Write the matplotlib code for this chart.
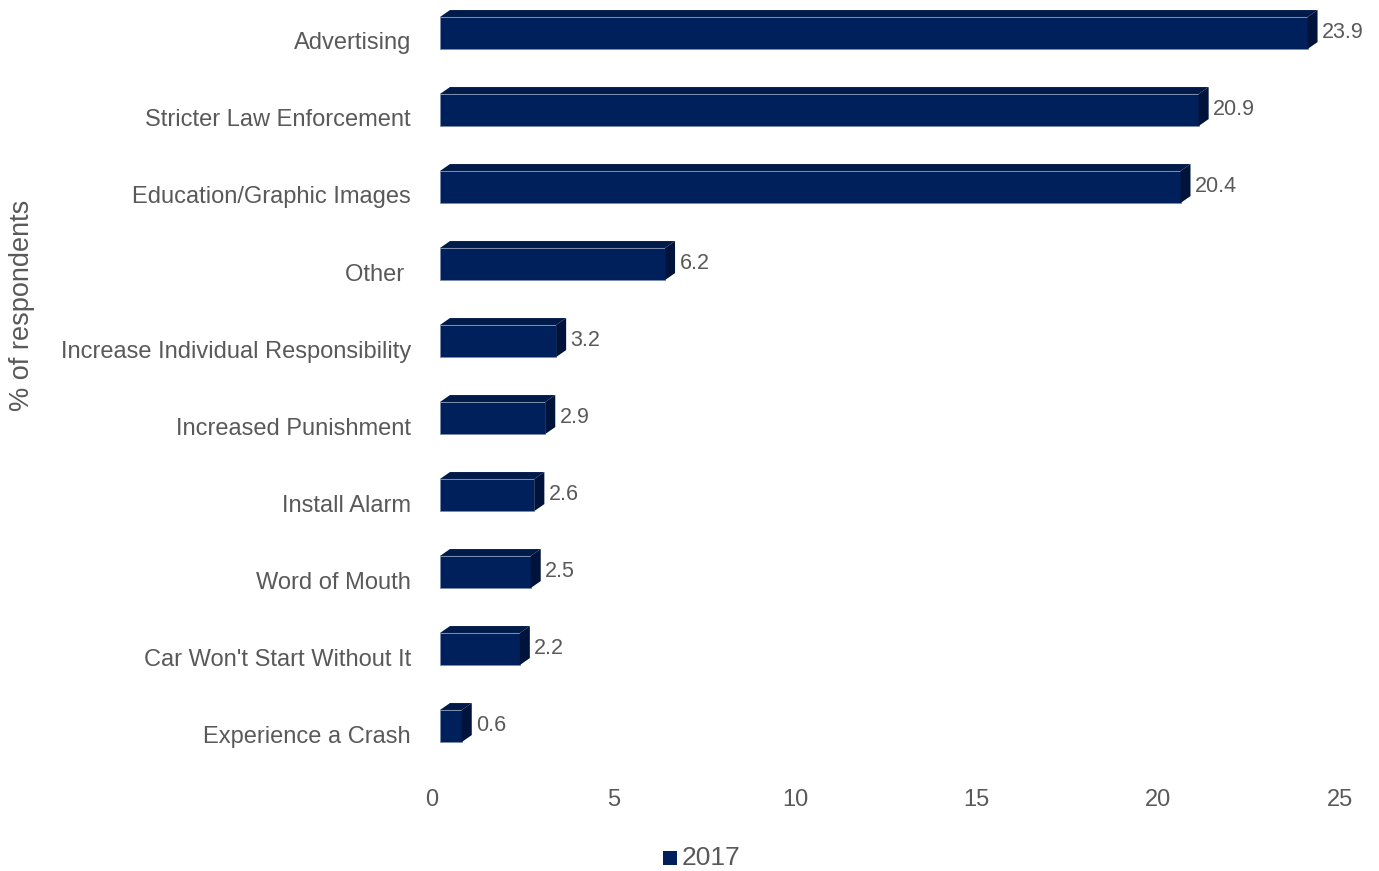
import matplotlib

matplotlib.use("Agg")
import matplotlib.pyplot as plt
from matplotlib.patches import Polygon
from matplotlib.transforms import ScaledTranslation

plt.rcParams["font.family"] = ["Liberation Sans", "DejaVu Sans"]

categories = [
    "Advertising",
    "Stricter Law Enforcement",
    "Education/Graphic Images",
    "Other ",
    "Increase Individual Responsibility",
    "Increased Punishment",
    "Install Alarm",
    "Word of Mouth",
    "Car Won't Start Without It",
    "Experience a Crash",
]
values = [23.9, 20.9, 20.4, 6.2, 3.2, 2.9, 2.6, 2.5, 2.2, 0.6]
series_name = "2017"
x_ticks = [0, 5, 10, 15, 20, 25]

FRONT = "#00205B"
TOP = "#001A4A"
SIDE = "#00133A"
GREY = "#595959"

W, H = 1379, 871
fig = plt.figure(figsize=(W / 100, H / 100), dpi=100)
ax = fig.add_axes([440 / W, 1 - 772.5 / H, 907.5 / W, 770 / H])

# 3D-ish look: front face + slanted top + dark right side
dx, dy = 0.275, 0.09  # depth in data units
ypos = list(range(len(categories)))
centers = [y - 0.104 for y in ypos]
hb = 0.416
ax.barh(centers, values, height=hb, color=FRONT, edgecolor="#7b8bab",
        linewidth=0.6, zorder=3)
for c, v in zip(centers, values):
    top = c - hb / 2
    bot = c + hb / 2
    ax.add_patch(Polygon([(0, top), (dx, top - dy), (v + dx, top - dy), (v, top)],
                         closed=True, facecolor=TOP, edgecolor="none", zorder=3))
    ax.add_patch(Polygon([(v, top), (v + dx, top - dy), (v + dx, bot - dy), (v, bot)],
                         closed=True, facecolor=SIDE, edgecolor="none", zorder=3))
    ax.text(v + dx + 0.12, c - dy / 2 + 0.035, f"{v:.1f}", va="center", ha="left",
            fontsize=15.5, color=GREY)

ax.set_xlim(0, 25)
ax.set_ylim(9.5, -0.5)
ax.set_yticks(ypos)
ax.set_yticklabels(categories, fontsize=17, color=GREY)
ax.set_xticks(x_ticks)
ax.set_xticklabels([str(t) for t in x_ticks], fontsize=17, color=GREY)
ax.tick_params(axis="y", length=0, pad=21)
ax.tick_params(axis="x", length=0, pad=12)
shift = ScaledTranslation(-8 / 100, 0, fig.dpi_scale_trans)
for lbl in ax.get_xticklabels():
    lbl.set_transform(lbl.get_transform() + shift)
for s in ax.spines.values():
    s.set_visible(False)

fig.text(22 / W, 1 - 305 / H, "% of respondents", rotation=90, ha="center",
         va="center", fontsize=19.5, color=GREY)

# legend
fig.patches.append(Polygon([(663 / W, 1 - 865 / H), (677 / W, 1 - 865 / H),
                            (677 / W, 1 - 851 / H), (663 / W, 1 - 851 / H)],
                           closed=True, transform=fig.transFigure,
                           facecolor=FRONT, edgecolor="none"))
fig.text(682 / W, 1 - 858 / H, series_name, ha="left", va="center",
         fontsize=19, color=GREY)

fig.savefig("out.png", dpi=100)
